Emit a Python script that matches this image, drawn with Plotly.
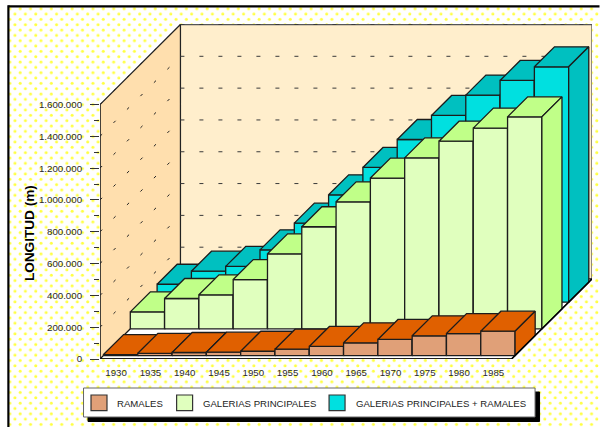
import base64
import plotly.graph_objects as go

years = [1930, 1935, 1940, 1945, 1950, 1955, 1960, 1965, 1970, 1975, 1980, 1985]
ramales = [6000, 14000, 19000, 21000, 27000, 40000, 57000, 80000, 101000, 124000, 138000, 153000]
galerias = [107000, 191000, 214000, 310000, 472000, 642000, 799000, 948000, 1075000, 1180000, 1262000, 1333000]
galerias_ramales = [113000, 195000, 225000, 329000, 497000, 675000, 847000, 1023000, 1174000, 1302000, 1394000, 1480000]
y_ticks = [0, 200000, 400000, 600000, 800000, 1000000, 1200000, 1400000, 1600000]
y_labels = ["0", "200.000", "400.000", "600.000", "800.000", "1.000.000", "1.200.000", "1.400.000", "1.600.000"]
y_minor = [100000, 300000, 500000, 700000, 900000, 1100000, 1300000, 1500000]
series_names = ["RAMALES", "GALERIAS PRINCIPALES", "GALERIAS PRINCIPALES + RAMALES"]

W, H = 600, 427
L, R, T, B = 100, 592.5, 24, 359
PX_PER_SLOT = 412 / 12
PX_PER_VALUE = 254.5 / 1600000
DEPTH_X = 80.5 / PX_PER_SLOT
DEPTH_Y = 80 / PX_PER_VALUE
INK = "#1c1c1c"
FACES = [("#E0A078", "#E06000", "#E06000"),
         ("#E0FFBE", "#C0FF88", "#C0FF88"),
         ("#00E0E0", "#00C0C0", "#00C0C0")]


def proj(x, d, v):
    return x + d * DEPTH_X, v + d * DEPTH_Y


def px(x):
    return (x - L) / (R - L)


def py(y):
    return (B - y) / (B - T)


fig = go.Figure()


def poly(points, fill, line=INK, width=1.3):
    xs = [p[0] for p in points] + [points[0][0]]
    ys = [p[1] for p in points] + [points[0][1]]
    fig.add_trace(go.Scatter(x=xs, y=ys, mode="lines", fill="toself", fillcolor=fill,
                             line=dict(color=line, width=width), hoverinfo="skip",
                             showlegend=False, cliponaxis=False))


def seg(points, color=INK, width=1.1, dash=None):
    fig.add_trace(go.Scatter(x=[p[0] for p in points], y=[p[1] for p in points], mode="lines",
                             line=dict(color=color, width=width, dash=dash), hoverinfo="skip",
                             showlegend=False, cliponaxis=False))


# walls and floor
top = y_ticks[-1]
poly([proj(0, 1, 0), proj(12, 1, 0), proj(12, 1, top), proj(0, 1, top)], "#FFEECC", "#555555", 1.3)
poly([proj(0, 0, 0), proj(0, 0, top), proj(0, 1, top), proj(0, 1, 0)], "#FFDFAE", "#222222", 1.2)
poly([proj(0, 0, 0), proj(12, 0, 0), proj(12, 1, 0), proj(0, 1, 0)], "#FFFFFF", "#111111", 1.2)

# dashed grid on the walls
for v in y_ticks[1:]:
    seg([proj(0, 1, v), proj(12, 1, v)], "#3a3a3a", 1, "4px,15px")
    seg([proj(0, 0, v), proj(0, 1, v)], "#222222", 1, "3px,16px")

# bars, back row first
rows = [(2, galerias_ramales), (1, galerias), (0, ramales)]
for row, values in rows:
    d0 = (row + 0.13) / 3
    d1 = (row + 0.88) / 3
    front, upper, side = FACES[row]
    for i, v in enumerate(values):
        x0, x1 = i, i + 1
        poly([proj(x0, d0, 0), proj(x1, d0, 0), proj(x1, d0, v), proj(x0, d0, v)], front)
        poly([proj(x0, d0, v), proj(x1, d0, v), proj(x1, d1, v), proj(x0, d1, v)], upper)
        poly([proj(x1, d0, 0), proj(x1, d1, 0), proj(x1, d1, v), proj(x1, d0, v)], side)

# front floor edge and value axis line
seg([proj(0, 0, 0), proj(12, 0, 0), proj(12, 1, 0)], "#000000", 1.5)
seg([proj(0, 0, 0), proj(0, 0, top)], "#222222", 1.2)

# dotted page background
svg = (f'<svg xmlns="http://www.w3.org/2000/svg" width="{W}" height="{H}">'
       '<defs><filter id="b"><feGaussianBlur stdDeviation="0.7"/></filter>'
       '<pattern id="p" x="1.9" y="0.7" width="10.4" height="10.66" patternUnits="userSpaceOnUse">'
       '<g fill="#FFFF40" filter="url(#b)"><circle cx="2.6" cy="2.6" r="1.5"/><circle cx="7.8" cy="7.93" r="1.5"/></g>'
       '</pattern></defs>'
       f'<rect width="{W}" height="{H}" fill="#fff"/>'
       f'<rect x="9" y="7" width="{W}" height="{H}" fill="url(#p)"/></svg>')
src = "data:image/svg+xml;base64," + base64.b64encode(svg.encode()).decode()

shapes = []


def rect(x0, y0, x1, y1, fill, line=None, width=1):
    shapes.append(dict(type="rect", xref="paper", yref="paper", x0=px(x0), x1=px(x1), y0=py(y0), y1=py(y1),
                       fillcolor=fill, line=dict(color=line or fill, width=width), layer="above"))


# outer frame
shapes.append(dict(type="line", xref="paper", yref="paper", x0=px(8.3), x1=px(W), y0=py(6.3), y1=py(6.3),
                   line=dict(color="#000", width=2.2)))
shapes.append(dict(type="line", xref="paper", yref="paper", x0=px(8.3), x1=px(8.3), y0=py(5.2), y1=py(H),
                   line=dict(color="#000", width=2.2)))
# legend
rect(88, 392, 540, 421.5, "#000000")
rect(83.5, 388, 535.5, 417, "#FFFFFF", "#666666", 1)
annotations = []
for name, (sw, tx), face in zip(series_names, [(91, 115.5), (176.7, 200.8), (329.3, 354.5)], FACES):
    rect(sw, 395, sw + 16, 410.7, face[0], "#333333", 1.2)
    annotations.append(dict(text=name, xref="paper", yref="paper", x=px(tx), y=py(403), xanchor="left",
                            yanchor="middle", showarrow=False,
                            font=dict(family="Liberation Sans", size=9.6, color="#222222")))
annotations.append(dict(text="<b>LONGITUD (m)</b>", xref="paper", yref="paper", x=px(29), y=py(233),
                        textangle=-90, showarrow=False, xanchor="center", yanchor="middle",
                        font=dict(family="Liberation Sans", size=13.6, color="#000000")))

fig.update_layout(
    width=W, height=H, autosize=False,
    margin=dict(l=L, r=W - R, t=T, b=H - B, pad=0),
    paper_bgcolor="#FFFFFF", plot_bgcolor="rgba(0,0,0,0)",
    showlegend=False, shapes=shapes, annotations=annotations,
    images=[dict(source=src, xref="paper", yref="paper", x=px(0), y=py(0), sizex=W / (R - L),
                 sizey=H / (B - T), xanchor="left", yanchor="top", layer="below", sizing="stretch")],
    font=dict(family="Liberation Sans", size=9.7, color="#2a2a2a"),
    xaxis=dict(range=[0, (R - L) / PX_PER_SLOT], tickmode="array", tickvals=[i + 0.47 for i in range(len(years))],
               ticktext=[str(y) for y in years], ticks="", showgrid=False, zeroline=False, showline=False,
               ticklabelstandoff=6, fixedrange=True),
    yaxis=dict(range=[0, (B - T) / PX_PER_VALUE], tickmode="array", tickvals=y_ticks, ticktext=y_labels,
               ticks="outside", ticklen=9, tickwidth=1.2, tickcolor="#333333", showgrid=False, zeroline=False,
               showline=False, ticklabelstandoff=6, fixedrange=True,
               minor=dict(tickmode="array", tickvals=y_minor, ticks="outside", ticklen=5, tickwidth=1,
                          tickcolor="#333333", showgrid=False)),
)
fig.write_html("out.html", config=dict(displayModeBar=False),
               post_script="document.body.style.margin='0';")
